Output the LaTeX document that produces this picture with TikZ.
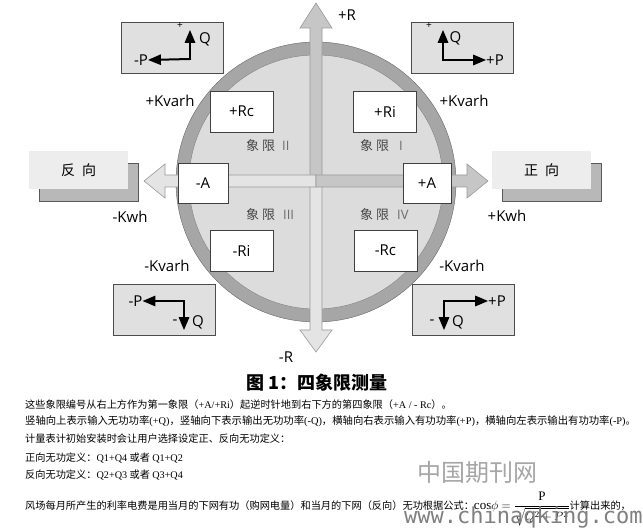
\documentclass[tikz,border=0pt]{standalone}
\usepackage{fontspec}
\setmainfont{Liberation Serif}
\setsansfont{Open Sans}
\newfontfamily\cjk{Noto Sans CJK SC}
\newfontfamily\webmono{DejaVu Sans Mono}
\usepackage{tikz}
\usetikzlibrary{shapes,arrows}
\usetikzlibrary{positioning}
\usetikzlibrary{shadows}
\newcommand{\en}[1]{{\rmfamily #1}}
\definecolor{ringgray}{HTML}{A6A6A6}
\definecolor{diskgray}{HTML}{DCDCDC}
\definecolor{darkarrow}{HTML}{C6C6C6}
\definecolor{lightarrow}{HTML}{E4E4E4}
\tikzstyle{valbox} = [rectangle, draw=black!75, fill=white, minimum width=63pt,
    minimum height=41pt, inner sep=0pt, font=\sffamily\fontsize{15}{18}\selectfont]
\tikzstyle{pqbox} = [rectangle, draw=black!70, fill=black!12,
    minimum width=102pt, minimum height=51pt]
\tikzstyle{dirbox} = [rectangle, fill=black!7, minimum width=99pt, minimum height=38pt,
    font=\cjk\fontsize{14}{16}\selectfont,
    drop shadow={shadow xshift=10pt, shadow yshift=-12.5pt, fill=black!28,
                 draw=black!65, opacity=1}]
\tikzstyle{lbl} = [inner sep=0pt, font=\sffamily\fontsize{15}{18}\selectfont]
\tikzstyle{small} = [inner sep=0pt, font=\sffamily\fontsize{10}{12}\selectfont]
\tikzstyle{quad} = [inner sep=0pt, anchor=west, text=black!72,
    font=\cjk\fontsize{13}{15}\selectfont]
\tikzstyle{pqline} = [draw, line width=2pt, line cap=rect, -triangle 45]
\tikzstyle{bigarrow} = [draw=black!40, line width=0.6pt]
\tikzstyle{para} = [inner sep=0pt, anchor=west, font=\cjk\fontsize{10.2}{12}\selectfont]

\begin{document}
\begin{tikzpicture}[x=1pt, y=-1pt]
  \useasboundingbox (0,0) rectangle (643,529);
  \fill[white] (0,0) rectangle (643,529);

  % ring and disk
  \draw[fill=ringgray, draw=black!60] (316,182) circle (140);
  \draw[fill=diskgray, draw=black!50] (316,182) circle (127);

  % axis arrows
  \path[bigarrow, fill=darkarrow] (310,181) -- (310,28) -- (300,28) -- (316,3)
    -- (332,28) -- (322,28) -- (322,181) -- cycle;
  \path[bigarrow, fill=lightarrow] (310,181) -- (310,330) -- (300,330) -- (316,352)
    -- (332,330) -- (322,330) -- (322,181) -- cycle;
  \path[bigarrow, fill=lightarrow] (316,175) -- (165,175) -- (165,164) -- (144,181)
    -- (165,198) -- (165,187) -- (316,187) -- cycle;
  \path[bigarrow, fill=darkarrow] (316,175) -- (467,175) -- (467,164) -- (488,181)
    -- (467,198) -- (467,187) -- (316,187) -- cycle;

  % Place nodes
  \node [valbox] (rcp) at (241.5,111.5) {+Rc};
  \node [valbox, right of=rcp, node distance=143.5pt] (rip) {+Ri};
  \node [valbox, below of=rcp, node distance=139pt] (rim) {-Ri};
  \node [valbox, right of=rim, node distance=144pt] (rcm) {-Rc};
  \node [valbox, minimum width=50pt, minimum height=40pt] (am) at (203,183) {-A};
  \node [valbox, minimum width=48pt, minimum height=40pt] (ap) at (427,183) {+A};

  \node [quad] (q2) at (246,146) {象\hspace{3pt}限\hspace{7pt}{\color{black!58}\sffamily II}};
  \node [quad] (q1) at (360,146) {象\hspace{3pt}限\hspace{10pt}{\color{black!58}\sffamily I}};
  \node [quad] (q3) at (246,215) {象\hspace{3pt}限\hspace{8pt}{\color{black!58}\sffamily III}};
  \node [quad] (q4) at (360,215) {象\hspace{3pt}限\hspace{8pt}{\color{black!58}\sffamily IV}};

  \node [dirbox] (rev) at (78.5,170) {反\hspace{7pt}向};
  \node [dirbox] (fwd) at (541.5,170) {正\hspace{7pt}向};

  \node [lbl] (rplus) at (347,15) {+R};
  \node [lbl] (rminus) at (286,357) {-R};
  \node [lbl] (kvl) at (170,101) {+Kvarh};
  \node [lbl] (kvr) at (464,101) {+Kvarh};
  \node [lbl] (kwm) at (130,217) {-Kwh};
  \node [lbl] (kwp) at (507,216) {+Kwh};
  \node [lbl] (kvml) at (167,266) {-Kvarh};
  \node [lbl] (kvmr) at (462,266) {-Kvarh};

  % P/Q boxes
  \node [pqbox] (pq2) at (172,47.5) {};
  \node [pqbox, right of=pq2, node distance=290.5pt] (pq1) {};
  \node [pqbox] (pq3) at (164.5,309.5) {};
  \node [pqbox, right of=pq3, node distance=299pt] (pq4) {};

  \node [lbl] (tlQ) at (205,39) {Q};
  \node [lbl] (tlP) at (141,60) {-P};
  \node [small] at (180,26) {+};
  \coordinate (tlO) at (190,59);
  \coordinate (tlU) at (190,30);
  \path [pqline] (tlO) -- (tlU);
  \path [pqline] (tlO) -- (tlP.east);

  \node [lbl] (trQ) at (455.5,38) {Q};
  \node [lbl] (trP) at (495,60) {+P};
  \node [small] at (429,26) {+};
  \coordinate (trO) at (443,60);
  \coordinate (trU) at (443,30);
  \path [pqline] (trO) -- (trU);
  \path [pqline] (trO) -- (trP.west);

  \node [lbl] (blQ) at (198,322) {Q};
  \node [lbl] (blM) at (175,322) {-};
  \node [lbl] (blP) at (135.5,301) {-P};
  \coordinate (blO) at (184,301);
  \coordinate (blD) at (184,330);
  \path [pqline] (blO) -- (blD);
  \path [pqline] (blO) -- (blP.east);

  \node [lbl] (brQ) at (458,322) {Q};
  \node [lbl] (brM) at (432,322) {-};
  \node [lbl] (brP) at (497,301) {+P};
  \coordinate (brO) at (444,301);
  \coordinate (brD) at (444,330);
  \path [pqline] (brO) -- (brD);
  \path [pqline] (brO) -- (brP.west);

  % caption and text
  \node [font=\cjk\bfseries\fontsize{18}{20}\selectfont] (cap) at (317,383) {图 1：四象限测量};
  \node [para] (l1) at (25,405) {这些象限编号从右上方作为第一象限（\en{+A/+Ri}）起逆时针地到右下方的第四象限（\en{+A / - Rc}）。};
  \node [para, font=\cjk\fontsize{10.35}{12}\selectfont] (l2) at (25,421) {竖轴向上表示输入无功功率\en{(+Q)}，竖轴向下表示输出无功功率\en{(-Q)}，横轴向右表示输入有功功率\en{(+P)}，横轴向左表示输出有功功率\en{(-P)}。};
  \node [para] (l3) at (25,439) {计量表计初始安装时会让用户选择设定正、反向无功定义：};
  \node [para] (l4) at (25,458) {正向无功定义：\en{Q1+Q4} 或者 \en{Q1+Q2}};
  \node [para] (l5) at (25,475) {反向无功定义：\en{Q2+Q3} 或者 \en{Q3+Q4}};
  \node [para, anchor=base west] (l6) at (25,509) {风场每月所产生的利率电费是用当月的下网有功（购网电量）和当月的下网（反向）无功根据公式：{\fontsize{13}{15}\selectfont$\mathrm{cos}\phi=\displaystyle\frac{\mathrm{P}}{\sqrt{Q^2+P^2}}$}计算出来的，};

  % watermark
  \node [text=black!35, font=\cjk\fontsize{24}{26}\selectfont] (wmcn) at (477,472) {中国期刊网};
  \node [text=black!50, anchor=west, inner sep=0pt, font=\webmono\fontsize{22}{24}\selectfont] (wmurl) at (404,518) {www.chinaqking.com};
\end{tikzpicture}
\end{document}
